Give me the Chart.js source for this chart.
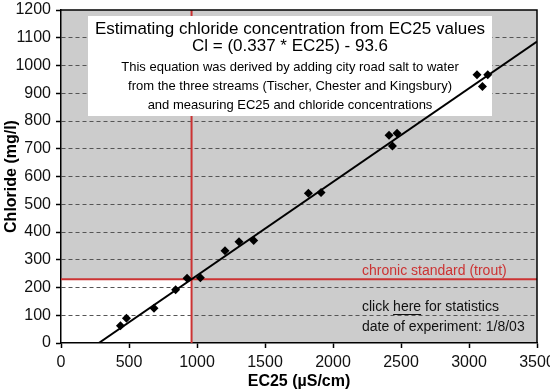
<!DOCTYPE html>
<html>
<head>
<meta charset="utf-8">
<script src="https://cdn.jsdelivr.net/npm/chart.js@4.4.1/dist/chart.umd.min.js"></script>
<style>
  body { margin: 0; background: #fff; }
  canvas { display: block; }
</style>
</head>
<body>
<canvas id="chart" width="550" height="392"></canvas>
<script>
// measured points (EC25 vs chloride)
const ec25 = [437, 481, 684, 843, 927, 1025, 1206, 1309, 1417, 1819, 1912, 2412, 2471, 2437, 3059, 3138, 3099]
const chloride = [62, 89, 125, 192, 233, 235, 332, 365, 369, 540, 542, 749, 756, 710, 967, 967, 924]

// regression line Cl = 0.337*EC25 - 93.6, end points
const fitEC = [278, 3500]
const fitCl = [0, 1086]

// chronic standard (trout)
const chronicCl = 230
const chronicEC = 960

const xMin = 0, xMax = 3500, xStep = 500
const yMin = 0, yMax = 1200, yStep = 100

const boxLines = [
    "Estimating chloride concentration from EC25 values",
    "Cl = (0.337 * EC25) - 93.6",
    "This equation was derived by adding city road salt to water",
    "from the three streams (Tischer, Chester and Kingsbury)",
    "and measuring EC25 and chloride concentrations"
]

const FONT = "'Liberation Sans', Arial, sans-serif"
const RED = '#cc3333'

const toXY = (xs, ys) => xs.map((x, i) => ({ x: x, y: ys[i] }))

const backdrop = {
    id: 'backdrop',
    beforeDraw(chart) {
        const { ctx, chartArea: a, scales: { x, y } } = chart
        ctx.save()
        ctx.fillStyle = '#cccccc'
        ctx.fillRect(a.left, a.top, a.width, a.height)
        // white corner below the standard
        const px = x.getPixelForValue(chronicEC)
        const py = y.getPixelForValue(chronicCl)
        ctx.fillStyle = '#ffffff'
        ctx.fillRect(a.left, py, px - a.left, a.bottom - py)
        ctx.restore()
    },
    beforeDatasetDraw(chart, args) {
        if (args.index !== 1) return
        const ctx = chart.ctx
        ctx.save()
        ctx.fillStyle = '#ffffff'
        ctx.fillRect(88, 16, 404, 100)
        ctx.fillStyle = '#000'
        ctx.textAlign = 'center'
        ctx.textBaseline = 'middle'
        ctx.font = "17px " + FONT
        ctx.fillText(boxLines[0], 290, 29)
        ctx.fillText(boxLines[1], 290, 46)
        ctx.font = "13px " + FONT
        ctx.fillText(boxLines[2], 290, 67)
        ctx.fillText(boxLines[3], 290, 86)
        ctx.fillText(boxLines[4], 290, 105)
        ctx.restore()
    },
    afterDraw(chart) {
        const { ctx, chartArea: a } = chart
        ctx.save()
        ctx.strokeStyle = '#000'
        ctx.lineWidth = 1.5
        ctx.beginPath()
        ctx.moveTo(a.left, a.top)
        ctx.lineTo(a.right, a.top)
        ctx.lineTo(a.right, a.bottom)
        ctx.stroke()

        ctx.font = "14px " + FONT
        ctx.textAlign = 'left'
        ctx.textBaseline = 'middle'
        ctx.fillStyle = RED
        ctx.fillText("chronic standard (trout)", 362, 271)
        ctx.fillStyle = '#111'
        let cx = 362
        ctx.fillText("click ", cx, 307)
        cx += ctx.measureText("click ").width
        const hw = ctx.measureText("here").width
        ctx.fillText("here", cx, 307)
        ctx.fillRect(cx, 314, hw, 1)
        ctx.fillText(" for statistics", cx + hw, 307)
        ctx.fillText("date of experiment: 1/8/03", 362, 327)
        ctx.restore()
    }
}

new Chart(document.getElementById('chart'), {
    type: 'scatter',
    data: {
        datasets: [{
            data: toXY(ec25, chloride),
            pointStyle: 'rectRot',
            pointRadius: 4.5,
            pointBackgroundColor: '#000',
            pointBorderWidth: 0
        }, {
            data: toXY(fitEC, fitCl),
            showLine: true,
            borderColor: '#000',
            borderWidth: 2,
            pointRadius: 0
        }, {
            data: toXY([xMin, xMax], [chronicCl, chronicCl]),
            showLine: true,
            borderColor: RED,
            borderWidth: 2,
            pointRadius: 0
        }, {
            data: toXY([chronicEC, chronicEC], [yMin, yMax]),
            showLine: true,
            borderColor: RED,
            borderWidth: 2,
            pointRadius: 0
        }]
    },
    options: {
        responsive: false,
        animation: false,
        layout: { padding: { top: 10, right: 13, left: 0, bottom: 0 } },
        plugins: { legend: { display: false }, tooltip: { enabled: false } },
        scales: {
            x: {
                min: xMin, max: xMax,
                ticks: {
                    stepSize: xStep,
                    color: '#111',
                    font: { family: FONT, size: 16 },
                    padding: 5,
                    maxRotation: 0,
                    callback: v => String(v)
                },
                grid: { drawOnChartArea: false, tickLength: 5, tickColor: '#000', tickWidth: 1.5 },
                border: { color: '#000', width: 1.5 },
                title: {
                    display: true,
                    text: 'EC25 (\u00b5S/cm)',
                    color: '#000',
                    font: { family: FONT, size: 16, weight: 'bold' },
                    padding: { top: 0, bottom: 1 }
                },
                afterFit(s) { s.height = 49; s.paddingLeft = 0; s.paddingRight = 0 }
            },
            y: {
                min: yMin, max: yMax,
                ticks: {
                    stepSize: yStep,
                    color: '#111',
                    font: { family: FONT, size: 16 },
                    padding: 5,
                    callback: v => String(v)
                },
                grid: {
                    color: c => (c.tick && (c.tick.value === yMin || c.tick.value === yMax)) ? 'rgba(0,0,0,0)' : '#555',
                    lineWidth: 1,
                    tickLength: 5,
                    tickColor: '#000',
                    tickWidth: 1.5
                },
                border: { color: '#000', width: 1.5, dash: [4, 3] },
                title: {
                    display: true,
                    text: 'Chloride (mg/l)',
                    color: '#000',
                    font: { family: FONT, size: 16, weight: 'bold' },
                    padding: { top: 2, bottom: 0 }
                },
                afterFit(s) { s.width = 61; s.paddingTop = 0; s.paddingBottom = 0 }
            }
        }
    },
    plugins: [backdrop]
})
</script>
</body>
</html>
